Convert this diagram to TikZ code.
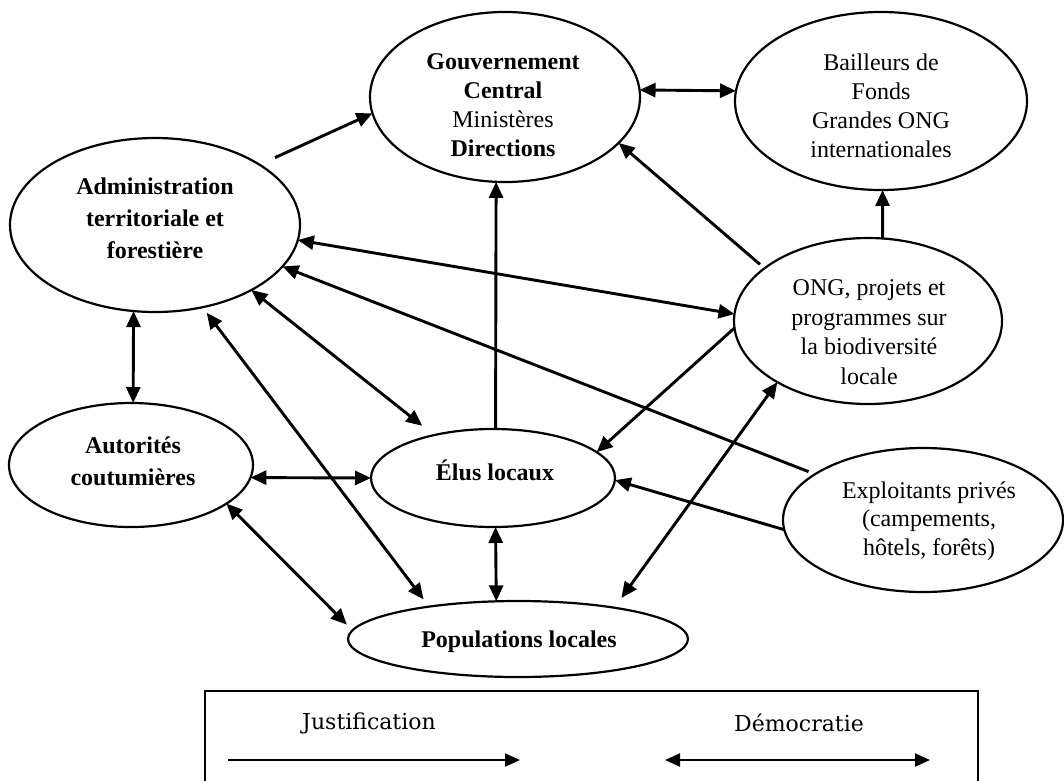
\documentclass[tikz,border=0pt]{standalone}
\usepackage{fontspec}
\setmainfont{Liberation Serif}
\newfontfamily\legendfont{DejaVu Serif}
\usetikzlibrary{shapes.geometric,arrows.meta}

\tikzset{
  actor/.style={ellipse, draw, line width=2.2pt, inner sep=0pt, outer sep=0pt},
  caption/.style={align=center, inner sep=0pt, font=\fontsize{24}{29}\selectfont},
  boldcaption/.style={caption, font=\fontsize{24}{32}\selectfont\bfseries},
  link/.style={line width=2.9pt, -{Triangle[length=16pt,width=14pt]}},
  mutual/.style={line width=2.9pt, {Triangle[length=16pt,width=14pt]}-{Triangle[length=16pt,width=14pt]}},
  legendtext/.style={font=\legendfont\fontsize{22}{26}\selectfont, inner sep=0pt},
  legendone/.style={line width=2pt, -{Triangle[length=15pt,width=13pt]}},
  legendtwo/.style={line width=2pt, {Triangle[length=15pt,width=13pt]}-{Triangle[length=15pt,width=13pt]}},
}

\begin{document}
\begin{tikzpicture}[x=1pt,y=-1pt]
\useasboundingbox (0,0) rectangle (1064,780);

% actors: outlines
\node[actor, minimum width=270pt, minimum height=170pt] (gouv) at (505,97) {};
\node[actor, minimum width=292pt, minimum height=178pt] (bail) at (881,101) {};
\node[actor, minimum width=290pt, minimum height=174pt] (admin) at (155,225) {};
\node[actor, minimum width=268pt, minimum height=166pt] (ong) at (868,321) {};
\node[actor, minimum width=244pt, minimum height=124pt] (aut) at (131,465) {};
\node[actor, minimum width=244pt, minimum height=98pt] (elus) at (493,478) {};
\node[actor, minimum width=340pt, minimum height=76pt] (pop) at (518,639) {};
\node[actor, minimum width=280pt, minimum height=144pt] (expl) at (923,520) {};

% actors: names
\node[caption] (gouvtext) at (503,105)
  {\textbf{Gouvernement}\\\textbf{Central}\\Ministères\\\textbf{Directions}};
\node[caption] (bailtext) at (881,106)
  {Bailleurs de\\Fonds\\Grandes ONG\\internationales};
\node[boldcaption] (admintext) at (155,218)
  {Administration\\territoriale et\\forestière};
\node[caption, font=\fontsize{24}{29.5}\selectfont] (ongtext) at (869,332)
  {ONG, projets et\\programmes sur\\la biodiversité\\locale};
\node[boldcaption] (auttext) at (133,461) {Autorités\\coutumières};
\node[boldcaption] (elustext) at (495,470) {Élus locaux};
\node[boldcaption] (poptext) at (519,642) {Populations locales};
\node[caption, font=\fontsize{24}{28.5}\selectfont] (expltext) at (929,521)
  {Exploitants privés\\(campements,\\hôtels, forêts)};

% one-way links (justification)
\draw[link, shorten <=17pt] (admin.30) -- (gouv.187);
\draw[link] (elus.87) -- (gouv.-96);
\draw[link, shorten <=6pt] (ong.153) -- (gouv.-22);
\draw[link] (ong.80) -- (bail.-89);
\draw[link, shorten <=7pt] (expl.157) -- (admin.-18);
\draw[link] (ong.-177) -- (elus.14);
\draw[link] (expl.184) -- (elus.-1);

% two-way links (democratie)
\draw[mutual] (gouv.3) -- (bail.176);
\draw[mutual] (admin.-6) -- (ong.177);
\draw[mutual, shorten >=15pt] (admin.-34) -- (elus.144);
\draw[mutual, shorten <=7pt, shorten >=9pt] (admin.-60) -- (pop.160);
\draw[mutual] (admin.-104) -- (aut.88);
\draw[mutual] (aut.-6) -- (elus.180);
\draw[mutual, shorten >=8pt] (aut.-22) -- (pop.177);
\draw[mutual] (elus.-87) -- (pop.120);
\draw[mutual, shorten <=12pt] (pop.18) -- (ong.-146);

% legend
\draw[line width=1.8pt] (205,790) -- (205,691) -- (978,691) -- (978,790);
\node[legendtext] (jlabel) at (369,723) {Justification};
\node[legendtext] (dlabel) at (799,723) {Démocratie};
\coordinate (jA) at (228,760);
\coordinate (jB) at (520,760);
\coordinate (dA) at (665,760);
\coordinate (dB) at (930,760);
\draw[legendone] (jA) -- (jB);
\draw[legendtwo] (dA) -- (dB);
\end{tikzpicture}
\end{document}
